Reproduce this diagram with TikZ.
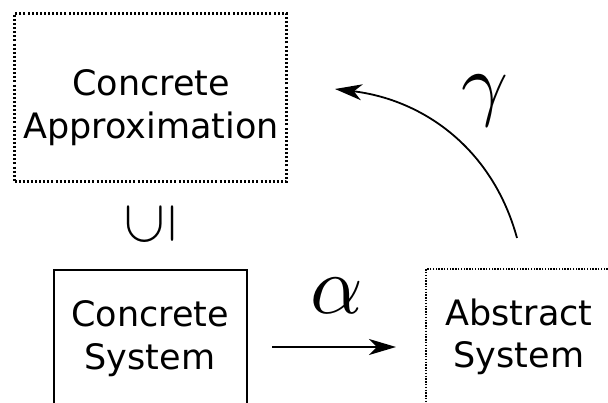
\documentclass[tikz,border=0pt]{standalone}
\usepackage{fontspec}
\setmainfont{DejaVu Sans}
\usetikzlibrary{arrows.meta}
\begin{document}
\begin{tikzpicture}[x=1pt,y=-1pt,
  boxdots/.style={draw, line width=2.2pt, dash pattern=on 2pt off 2.1pt, inner sep=0pt},
  finedots/.style={draw, line width=1.5pt, dash pattern=on 1.4pt off 1.4pt, inner sep=0pt},
  solidbox/.style={draw, line width=2pt, inner sep=0pt},
  lbl/.style={font=\fontsize{35}{43}\selectfont, align=center, anchor=base, inner sep=0pt},
  greek/.style={inner sep=0pt, anchor=base},
  conn/.style={line width=1.8pt, -{Stealth[length=27pt,width=16pt,inset=8pt]}}]
\useasboundingbox (0,0) rectangle (608,403);
\clip (0,0) rectangle (608,403);
% boxes
\node[boxdots, minimum width=272pt, minimum height=168pt] (approx) at (150.5,97.5) {};
\node[solidbox, minimum width=193pt, minimum height=170pt] (csys) at (150.5,355) {};
\node[finedots, minimum width=214pt, minimum height=171pt] (asys) at (533,354.5) {};
% labels
\node[lbl] (approxtxt) at (151,139) {Concrete\\Approximation};
\node[lbl] (csystxt) at (150,370) {Concrete\\System};
\node[lbl] (asystxt) at (519,368) {Abstract\\System};
% subset symbol
\node[inner sep=0pt] (sub) at (150,224) {\rotatebox{90}{\scalebox{6}{$\subseteq$}}};
% alpha
\coordinate (astart) at (272,347);
\coordinate (aend) at (396,347);
\draw[conn] (astart) -- (aend);
\node[greek] (alpha) at (337,314) {\scalebox{8.2}{$\alpha$}};
% gamma
\coordinate (gstart) at (517,238);
\coordinate (gend) at (335,89);
\draw[conn] (gstart) .. controls (493,150) and (425,100) .. (gend);
\node[greek] (gamma) at (485,111) {\scalebox{8.2}{$\gamma$}};
\end{tikzpicture}
\end{document}
